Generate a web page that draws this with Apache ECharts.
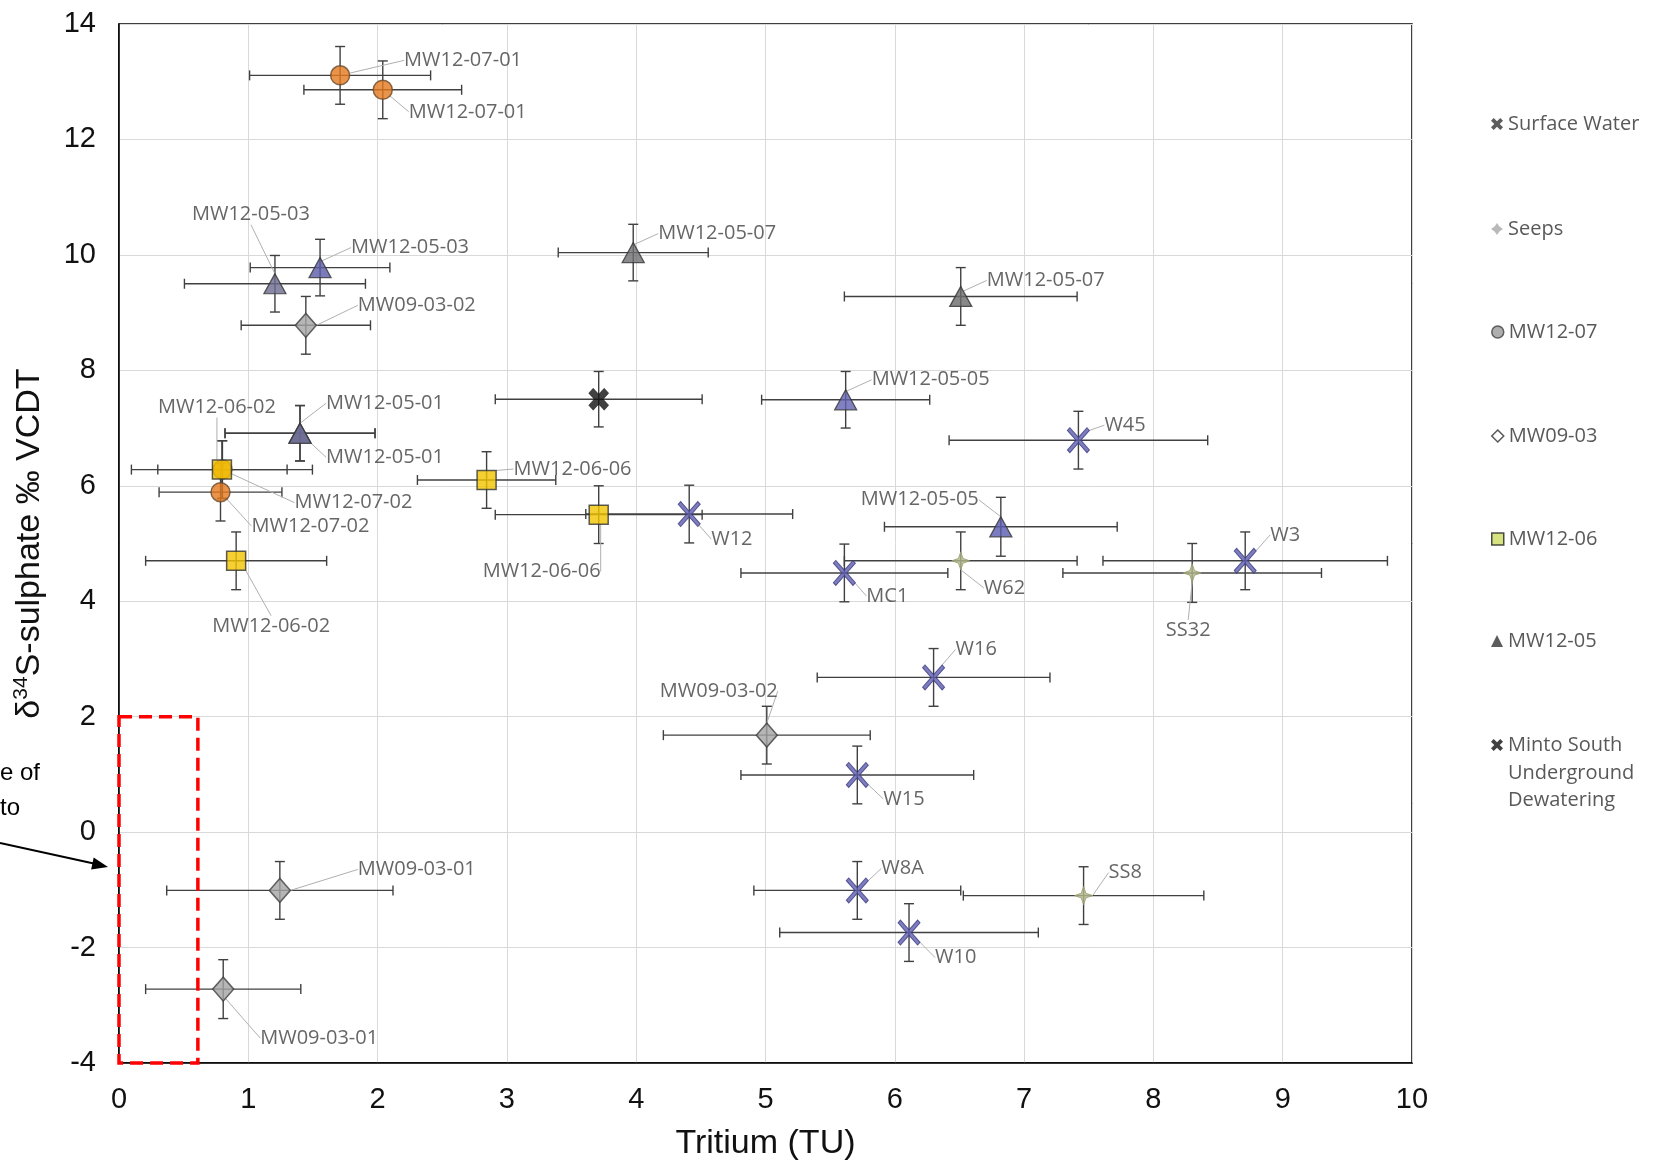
<!DOCTYPE html>
<html><head><meta charset="utf-8">
<script src="https://cdn.jsdelivr.net/npm/echarts@6/dist/echarts.min.js"></script>
<style>html,body{margin:0;padding:0;background:#fff;}#c{width:1654px;height:1166px;}</style>
</head><body><div id="c"></div>
<script>
// ---------- axes ----------
const xTicks = [0,1,2,3,4,5,6,7,8,9,10];
const yTicks = [-4,-2,0,2,4,6,8,10,12,14];

// ---------- Surface Water ----------
const swNames = ['W45','W12','MC1','W3','W16','W15','W8A','W10'];
const swX     = [7.42, 4.41, 5.61, 8.71, 6.30, 5.71, 5.71, 6.11];
const swY     = [6.79, 5.51, 4.49, 4.70, 2.68, 0.99, -1.01, -1.74];
const swXErr  = [1.0, 0.8, 0.8, 1.1, 0.9, 0.9, 0.8, 1.0];
const swYErr  = [0.5, 0.5, 0.5, 0.5, 0.5, 0.5, 0.5, 0.5];

// ---------- Seeps ----------
const seNames = ['W62','SS32','SS8'];
const seX     = [6.51, 8.30, 7.46];
const seY     = [4.70, 4.49, -1.10];
const seXErr  = [0.9, 1.0, 0.93];
const seYErr  = [0.5, 0.51, 0.5];

// ---------- MW12-07 ----------
const m07Names = ['MW12-07-01','MW12-07-01','MW12-07-02','MW12-07-02'];
const m07X     = [1.71, 2.04, 0.80, 0.785];
const m07Y     = [13.11, 12.86, 6.28, 5.89];
const m07XErr  = [0.70, 0.61, 0.5, 0.475];
const m07YErr  = [0.5, 0.5, 0.5, 0.5];

// ---------- MW09-03 ----------
const m09Names = ['MW09-03-02','MW09-03-02','MW09-03-01','MW09-03-01'];
const m09X     = [1.445, 5.01, 1.244, 0.806];
const m09Y     = [8.78, 1.68, -1.01, -2.72];
const m09XErr  = [0.5, 0.8, 0.875, 0.6];
const m09YErr  = [0.5, 0.5, 0.5, 0.51];

// ---------- MW12-06 ----------
const m06Names = ['MW12-06-02','MW12-06-02','MW12-06-06','MW12-06-06'];
const m06X     = [0.796, 0.906, 2.843, 3.71];
const m06Y     = [6.28, 4.70, 6.10, 5.50];
const m06XErr  = [0.7, 0.7, 0.535, 0.8];
const m06YErr  = [0.5, 0.5, 0.49, 0.5];

// ---------- MW12-05 ----------
const m05Names = ['MW12-05-03','MW12-05-03','MW12-05-07','MW12-05-07','MW12-05-05','MW12-05-05','MW12-05-01','MW12-05-01'];
const m05X     = [1.206, 1.555, 3.977, 6.51, 5.62, 6.82, 1.40, 1.40];
const m05Y     = [9.50, 9.78, 10.04, 9.28, 7.49, 5.29, 6.91, 6.91];
const m05XErr  = [0.70, 0.54, 0.58, 0.9, 0.65, 0.9, 0.58, 0.58];
const m05YErr  = [0.49, 0.49, 0.49, 0.5, 0.49, 0.51, 0.48, 0.48];

// ---------- Minto South Underground Dewatering ----------
const msNames = [''];
const msX     = [3.71];
const msY     = [7.50];
const msXErr  = [0.8];
const msYErr  = [0.48];

// ---------- highlighted range (red dashed box) ----------
const boxX = [0, 0.61];
const boxY = [-4, 2];

// ---------- label placement (pixels from marker centre) ----------
const swLab  = [[26,-15],[22,25],[22,23],[25,-26],[22,-28],[26,24],[24,-22],[26,25]];
const seLab  = [[23,27],[-4,57,'center'],[25,-23]];
const m07Lab = [[64,-15],[26,22],[72,33],[31,34]];
const m09Lab = [[52,-20],[-48,-44,'center'],[78,-21],[37,49]];
const m06Lab = [[-5,-62,'center'],[35,65,'center'],[27,-11],[-57,57,'center']];
const m05Lab = [[-24,-69,'center'],[31,-20],[25,-19],[26,-16],[26,-20],[-81,-27,'center'],[26,-30],[26,24]];
const msLab  = [[0,0]];

// ---------- styles ----------
const X_PATH = 'path://M0,2.2 L2.2,0 L10,7.8 L17.8,0 L20,2.2 L12.2,10 L20,17.8 L17.8,20 L10,12.2 L2.2,20 L0,17.8 L7.8,10 Z';
const X_BOLD = 'path://M0,4.5 L4.5,0 L10,5.5 L15.5,0 L20,4.5 L14.5,10 L20,15.5 L15.5,20 L10,14.5 L4.5,20 L0,15.5 L5.5,10 Z';
const STAR_PATH = 'path://M10,0 L12.6,7.4 L20,10 L12.6,12.6 L10,20 L7.4,12.6 L0,10 L7.4,7.4 Z';
const STAR_BOLD = 'path://M10,0 L14,6 L20,10 L14,14 L10,20 L6,14 L0,10 L6,6 Z';
const triFill = ['#6b6b8e','#5a5aa8','#6e6e72','#6a6a6c','#6262b2','#5a5ab0','#6a6a92','#6a6a92'];

const LABEL_FONT = 'Open Sans';
function makeLayout(offs){
  return function(p){
    const o = offs[p.dataIndex] || [0,0];
    const cx = p.rect.x + p.rect.width/2, cy = p.rect.y + p.rect.height/2;
    return {x: cx + o[0], y: cy + o[1], align: o[2] || 'left', verticalAlign: 'middle'};
  };
}
function pts(xs, ys, names, styles){
  return xs.map((x,i)=>{
    const d = {name: names[i], value:[x, ys[i]]};
    if (styles) d.itemStyle = {color: styles[i]};
    return d;
  });
}
function scatter(name, xs, ys, names, symbol, size, itemStyle, offs, styles, showLabel){
  return {
    type:'scatter', name, symbol, symbolSize:size, z:5,
    data: pts(xs, ys, names, styles),
    itemStyle,
    emphasis:{disabled:true},
    label:{show: showLabel !== false, position:'inside', formatter: p=>p.name,
           fontFamily: LABEL_FONT, fontSize:20, color:'#404040'},
    labelLine:{show:true, lineStyle:{color:'#b0b0b0', width:1}},
    labelLayout: makeLayout(offs)
  };
}

// error-bar rows built from the named arrays
const errRows = [];
[[swX,swY,swXErr,swYErr],[seX,seY,seXErr,seYErr],[m07X,m07Y,m07XErr,m07YErr],
 [m09X,m09Y,m09XErr,m09YErr],[m06X,m06Y,m06XErr,m06YErr],[m05X,m05Y,m05XErr,m05YErr],
 [msX,msY,msXErr,msYErr]].forEach(g=>{
   g[0].forEach((x,i)=>errRows.push([x, g[1][i], g[2][i], g[3][i]]));
});

function renderErr(params, api){
  const x = api.value(0), y = api.value(1), ex = api.value(2), ey = api.value(3);
  const l = api.coord([x-ex, y]), r = api.coord([x+ex, y]);
  const t = api.coord([x, y+ey]), b = api.coord([x, y-ey]);
  const c = 5;
  const style = {stroke:'#404040', lineWidth:1.4, fill:null};
  const ln = (x1,y1,x2,y2)=>({type:'line', shape:{x1,y1,x2,y2}, style});
  return {type:'group', children:[
    ln(l[0],l[1],r[0],r[1]), ln(l[0],l[1]-c,l[0],l[1]+c), ln(r[0],r[1]-c,r[0],r[1]+c),
    ln(t[0],t[1],b[0],b[1]), ln(t[0]-c,t[1],t[0]+c,t[1]), ln(b[0]-c,b[1],b[0]+c,b[1])
  ]};
}
function renderBox(params, api){
  const p1 = api.coord([api.value(0), api.value(3)]);
  const p2 = api.coord([api.value(1), api.value(2)]);
  return {type:'rect', shape:{x:p1[0], y:p1[1], width:p2[0]-p1[0], height:p2[1]-p1[1]},
          style:{fill:null, stroke:'#ff0000', lineWidth:3.5, lineDash:[13,7]}};
}

const chart = echarts.init(document.getElementById('c'), null, {renderer:'canvas'});

const legendItems = [
  {name:'Surface Water', icon:X_BOLD, style:{color:'#333333', borderWidth:0}, c:124},
  {name:'Seeps', icon:STAR_BOLD, style:{color:'#a8a8a8', borderWidth:0}, c:229},
  {name:'MW12-07', icon:'circle', style:{color:'#9a9a9a', borderColor:'#404040', borderWidth:1.5}, c:332},
  {name:'MW09-03', icon:'diamond', style:{color:'#ffffff', borderColor:'#303030', borderWidth:1.5}, c:436},
  {name:'MW12-06', icon:'rect', style:{color:'#cddc60', borderColor:'#202020', borderWidth:1.5}, c:539},
  {name:'MW12-05', icon:'triangle', style:{color:'#333333', borderWidth:0}, c:641},
  {name:'Minto South Underground Dewatering', icon:X_BOLD, style:{color:'#111111', borderWidth:0}, c:745}
];

const option = {
  backgroundColor:'#ffffff',
  animation:false,
  grid:{left:119, right:242, top:24, bottom:101, show:true, borderColor:'#000', borderWidth:1.5, backgroundColor:'transparent'},
  xAxis:{
    type:'value', min:xTicks[0], max:xTicks[xTicks.length-1], interval:1,
    axisLine:{show:true, onZero:false, lineStyle:{color:'#000', width:1.5}},
    axisTick:{show:false},
    axisLabel:{margin:22, fontSize:29, color:'#111', fontFamily:'Liberation Sans'},
    splitLine:{show:true, lineStyle:{color:'#d9d9d9', width:1}},
    name:'Tritium (TU)', nameLocation:'middle', nameGap:64,
    nameTextStyle:{fontSize:34, color:'#111', fontFamily:'Liberation Sans'}
  },
  yAxis:{
    type:'value', min:yTicks[0], max:yTicks[yTicks.length-1], interval:2,
    axisLine:{show:true, onZero:false, lineStyle:{color:'#000', width:1.5}},
    axisTick:{show:false},
    axisLabel:{margin:23, fontSize:29, color:'#111', fontFamily:'Liberation Sans'},
    splitLine:{show:true, lineStyle:{color:'#d9d9d9', width:1}},
    name:'δ{sup|34}S-sulphate ‰ VCDT', nameLocation:'middle', nameGap:70,
    nameTextStyle:{fontSize:34, color:'#111', fontFamily:'Liberation Sans', lineHeight:38,
      rich:{sup:{fontSize:21, fontFamily:'Liberation Sans', color:'#111', verticalAlign:'top', lineHeight:24}}}
  },
  legend: legendItems.map(it=>({
    data:[{name:it.name, icon:it.icon, itemStyle:it.style}],
    left:1491, top:it.c-11, orient:'vertical', padding:0,
    itemWidth:12, itemHeight:12, selectedMode:false,
    formatter: n => n === 'Minto South Underground Dewatering' ? 'Minto South' : n,
    textStyle:{fontFamily:LABEL_FONT, fontSize:20, color:'#595959', lineHeight:22}
  })),
  graphic:[
    {type:'text', left:1508, top:760, style:{text:'Underground\nDewatering', font:'20px "Open Sans"', fill:'#595959', lineHeight:27}},
    {type:'text', x:0, y:773, style:{text:'e of', font:'24px "Liberation Sans"', fill:'#000', verticalAlign:'middle'}},
    {type:'text', x:0, y:808, style:{text:'to', font:'24px "Liberation Sans"', fill:'#000', verticalAlign:'middle'}},
    {type:'line', shape:{x1:0, y1:843, x2:96, y2:864}, style:{stroke:'#000', lineWidth:2}},
    {type:'polygon', shape:{points:[[108,867],[93.7,857.6],[91.1,869.4]]}, style:{fill:'#000'}}
  ],
  series:[
    {type:'custom', name:'err', renderItem:renderErr, data:errRows, encode:{x:0, y:1}, z:2, silent:true, clip:false},
    scatter('Surface Water', swX, swY, swNames, X_PATH, [22,25], {color:'#5e5eae', borderColor:'#3a3a82', borderWidth:1}, swLab),
    scatter('Seeps', seX, seY, seNames, STAR_PATH, 18, {color:'#b2b78a', borderColor:'#979c6c', borderWidth:1}, seLab),
    scatter('MW12-07', m07X, m07Y, m07Names, 'circle', 19, {color:'#e5781e', borderColor:'#6b4a2a', borderWidth:1.5}, m07Lab),
    scatter('MW09-03', m09X, m09Y, m09Names, 'diamond', [21,24], {color:'#a4a4a4', borderColor:'#404040', borderWidth:1.5}, m09Lab),
    scatter('MW12-06', m06X, m06Y, m06Names, 'rect', 19, {color:'#f2c400', borderColor:'#333', borderWidth:1.5}, m06Lab),
    scatter('MW12-05', m05X, m05Y, m05Names, 'triangle', [22,20], {borderColor:'#333', borderWidth:1.3}, m05Lab, triFill),
    scatter('Minto South Underground Dewatering', msX, msY, msNames, X_BOLD, [20,22], {color:'#111', borderColor:'#000', borderWidth:0.5}, msLab, null, false),
    {type:'custom', name:'box', renderItem:renderBox, data:[[boxX[0], boxX[1], boxY[0], boxY[1]]],
     encode:{x:[0,1], y:[2,3]}, z:10, silent:true, clip:false}
  ]
};
chart.setOption(option);
</script></body></html>
